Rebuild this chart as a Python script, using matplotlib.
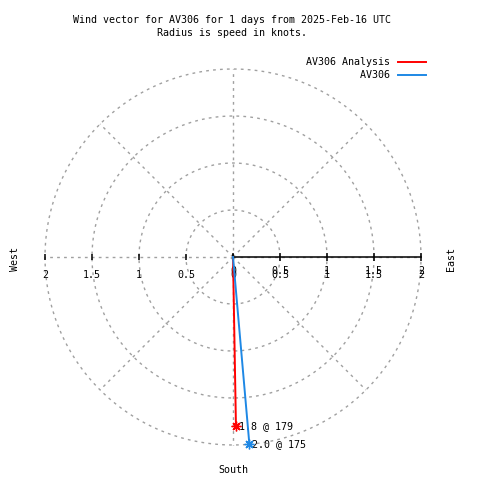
import numpy as np
import matplotlib
matplotlib.use('Agg')
import matplotlib.pyplot as plt

# === Data ===
series_names = ['AV306 Analysis', 'AV306']
speeds = [1.8, 2.0]          # knots
directions = [179, 175]      # degrees, compass (0 = north, clockwise)
series_colors = ['#ff0000', '#1e88e5']
ring_radii = [0.5, 1.0, 1.5, 2.0]
tick_values = [0, 0.5, 1, 1.5, 2]
tick_labels = ['0', '0.5', '1', '1.5', '2']
spoke_angles = np.arange(0, 360, 45)
title_lines = ['Wind vector for AV306 for 1 days from 2025-Feb-16 UTC',
               'Radius is speed in knots.']

W, H = 480, 480
CX, CY = 233, 257      # pixel position of the origin
PX_PER_KNOT = 94
FONT = 'DejaVu Sans Mono'
FS = 7.2
GRID = '#a0a0a0'


def fig_pos(x, y):
    """Pixel position -> figure fraction."""
    return x / W, 1 - y / H


def main():
    plt.rcParams['font.family'] = FONT
    fig = plt.figure(figsize=(W / 100, H / 100), dpi=100)
    ax = fig.add_axes([0, 0, 1, 1])
    ax.set_xlim(-CX / PX_PER_KNOT, (W - CX) / PX_PER_KNOT)
    ax.set_ylim(-(H - CY) / PX_PER_KNOT, CY / PX_PER_KNOT)
    ax.axis('off')

    # grid rings and spokes
    theta = np.linspace(0, 2 * np.pi, 721)
    for r in ring_radii:
        ax.plot(r * np.cos(theta), r * np.sin(theta), color=GRID, lw=1,
                ls=(0, (2, 3)), zorder=1)
    rmax = max(ring_radii)
    for a in np.radians(spoke_angles):
        ax.plot([0, rmax * np.sin(a)], [0, rmax * np.cos(a)], color=GRID,
                lw=1, ls=(0, (2, 3)), zorder=1)

    # radial axis (east side) with ticks on both sides
    ax.plot([0, rmax], [0, 0], color='black', lw=1.1, zorder=2)
    tv = np.array(tick_values)
    ax.plot(tv, np.zeros_like(tv), ls='none', marker='|', ms=6,
            mew=1.1, color='black', zorder=2)
    ax.plot(-tv, np.zeros_like(tv), ls='none', marker='|', ms=5,
            mew=1.1, color='black', zorder=2)
    for v, lab in zip(tick_values, tick_labels):
        if v > 0:
            ax.annotate(lab, (-v, 0), xytext=(0, -18),
                        textcoords='offset pixels', ha='center',
                        va='center', fontsize=FS)
        # east side labels are drawn twice, slightly offset, as in the source
        for dy in (-14, -18):
            ax.annotate(lab, (v, 0), xytext=(0, dy), textcoords='offset pixels',
                        ha='center', va='center', fontsize=FS)

    # wind vectors
    for s, d, c in zip(speeds, directions, series_colors):
        x = s * np.sin(np.radians(d))
        y = s * np.cos(np.radians(d))
        ax.plot([0, x], [0, y], color=c, lw=1.4, zorder=3)
        ax.plot([x], [y], ls='none', marker=(8, 2, 0), ms=7, mew=1,
                color=c, zorder=4)
        ax.annotate(f'{s:.1f} @ {d}', (x, y), xytext=(3, 0),
                    textcoords='offset pixels', ha='left', va='center',
                    fontsize=FS)

    # legend (monospace: pad names so they line up on the right)
    width = max(len(n) for n in series_names)
    handles = [plt.Line2D([], [], color=c, lw=1.4) for c in series_colors]
    ax.legend(handles, [n.rjust(width) for n in series_names],
              loc='upper right', bbox_to_anchor=fig_pos(426, 57),
              bbox_transform=fig.transFigure, markerfirst=False,
              frameon=False, fontsize=FS, handlelength=2.8,
              handletextpad=0.8, labelspacing=0.3, borderpad=0,
              borderaxespad=0)

    # titles and compass labels
    for i, line in enumerate(title_lines):
        fig.text(*fig_pos(232, 20 + 13 * i), line, ha='center', va='center',
                 fontsize=FS)
    fig.text(*fig_pos(15, 259), 'West', rotation=90, ha='center',
             va='center', fontsize=FS)
    fig.text(*fig_pos(451, 259), 'East', rotation=90, ha='center',
             va='center', fontsize=FS)
    fig.text(*fig_pos(233, 470), 'South', ha='center', va='center',
             fontsize=FS)

    fig.savefig('out.png', dpi=100)
    plt.close(fig)


if __name__ == '__main__':
    main()
